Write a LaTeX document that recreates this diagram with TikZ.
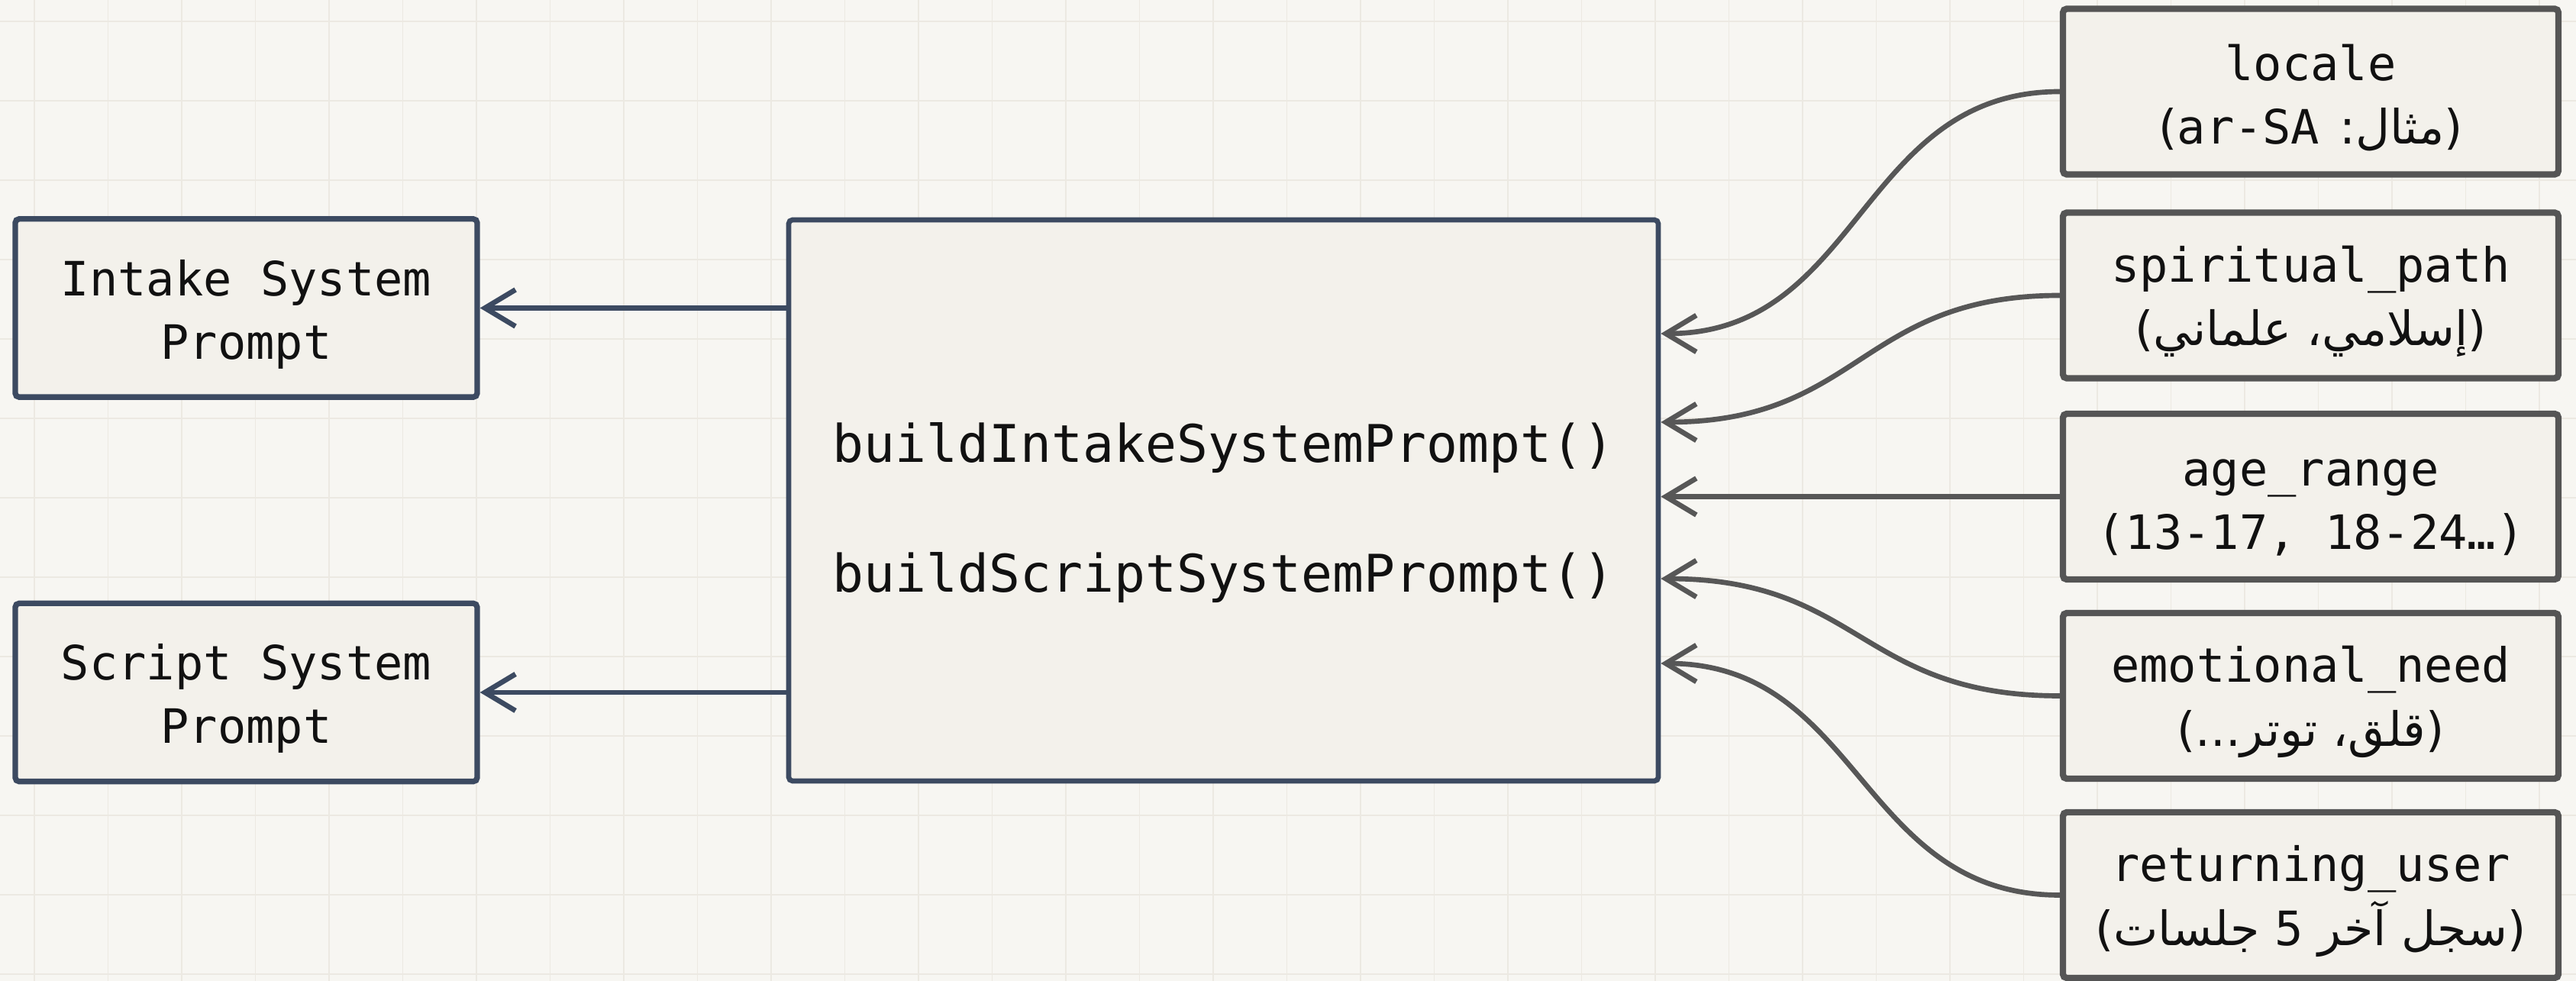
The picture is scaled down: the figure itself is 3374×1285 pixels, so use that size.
\documentclass[tikz,border=0pt]{standalone}
\usepackage{fontspec}
\setmainfont{DejaVu Sans Mono}
\newfontfamily\arabicfont[Script=Arabic]{DejaVu Sans}
\newfontfamily\latinmono{DejaVu Sans Mono}
\TeXXeTstate=1
\usetikzlibrary{arrows.meta}

\definecolor{paper}{HTML}{F7F6F2}
\definecolor{gridcol}{HTML}{ECE9E2}
\definecolor{boxfill}{HTML}{F3F1EB}
\definecolor{slate}{HTML}{3C4A61}
\definecolor{graybd}{HTML}{555555}
\definecolor{wire}{HTML}{575757}
\definecolor{ink}{HTML}{111111}

% right-to-left Arabic line
\newcommand\rtl[1]{{\arabicfont\beginR#1\endR}}
% tall first line, pushes the text block a little lower in its box
\newcommand\lift[1]{\rule{0pt}{#1}}

\begin{document}
\begin{tikzpicture}[
  x=0.3pt, y=-0.3pt,
  gridline/.style={draw=gridcol, line width=0.55pt},
  box/.style={draw, fill=boxfill, rounded corners=1.5pt, align=center,
    inner sep=0pt, text=ink, font=\fontsize{18.6}{25}\selectfont},
  outbox/.style={box, draw=slate, line width=2.2pt,
    minimum width=181.5pt, minimum height=70pt},
  inbox/.style={box, draw=graybd, line width=2.5pt,
    minimum width=194.7pt, minimum height=65.1pt},
  core/.style={box, draw=slate, line width=2pt,
    minimum width=341.7pt, minimum height=220.5pt,
    font=\fontsize{20.4}{51}\selectfont},
  feed/.style={draw=wire, line width=2pt,
    -{Straight Barb[length=12pt,width=14.4pt]}},
  emit/.style={draw=slate, line width=2pt,
    -{Straight Barb[length=12pt,width=14.4pt]}}
]
\useasboundingbox (0,0) rectangle (3374,1285);
\fill[paper] (0,0) rectangle (3374,1285);

% background grid
\foreach \k in {0,...,34}
  \draw[gridline] ({45+96.5*\k},0) -- ({45+96.5*\k},1285);
\foreach \k in {0,...,12}
  \draw[gridline] (0,{28+104*\k}) -- (3374,{28+104*\k});

% outputs
\node[outbox] (intake) at (322.5,403.5) {\lift{19pt}Intake System\\Prompt};
\node[outbox] (script) at (322.5,907) {\lift{19pt}Script System\\Prompt};

% builder functions
\node[core] (builder) at (1602.5,655.5)
  {\lift{25pt}buildIntakeSystemPrompt()\\buildScriptSystemPrompt()};

% inputs
\node[inbox] (locale) at (3026.5,120)
  {\lift{19pt}locale\\\rtl{(مثال: \beginL{\latinmono ar-SA}\endL{})}};
\node[inbox] (spirit) at (3026.5,387)
  {\lift{19pt}spiritual\_path\\\rtl{(إسلامي، علماني)}};
\node[inbox] (age) at (3026.5,650.5)
  {\lift{19pt}age\_range\\(13-17, 18-24…)};
\node[inbox] (emotion) at (3026.5,911.5)
  {\lift{19pt}emotional\_need\\\rtl{(قلق، توتر...)}};
\node[inbox] (returning) at (3026.5,1172.5)
  {\lift{19pt}returning\_user\\\rtl{(سجل آخر \beginL{\latinmono 5}\endL{} جلسات)}};

% builder -> outputs
\draw[emit] (builder.west |- intake.east) -- (intake.east);
\draw[emit] (builder.west |- script.east) -- (script.east);

% inputs -> builder
\draw[feed] (locale.west) .. controls +(-262,0) and +(262,0) .. (builder.east |- 0,437);
\draw[feed] (spirit.west) .. controls +(-262,0) and +(262,0) .. (builder.east |- 0,553);
\draw[feed] (age.west) -- (builder.east |- age.west);
\draw[feed] (emotion.west) .. controls +(-262,0) and +(262,0) .. (builder.east |- 0,758);
\draw[feed] (returning.west) .. controls +(-262,0) and +(262,0) .. (builder.east |- 0,869);
\end{tikzpicture}
\end{document}
